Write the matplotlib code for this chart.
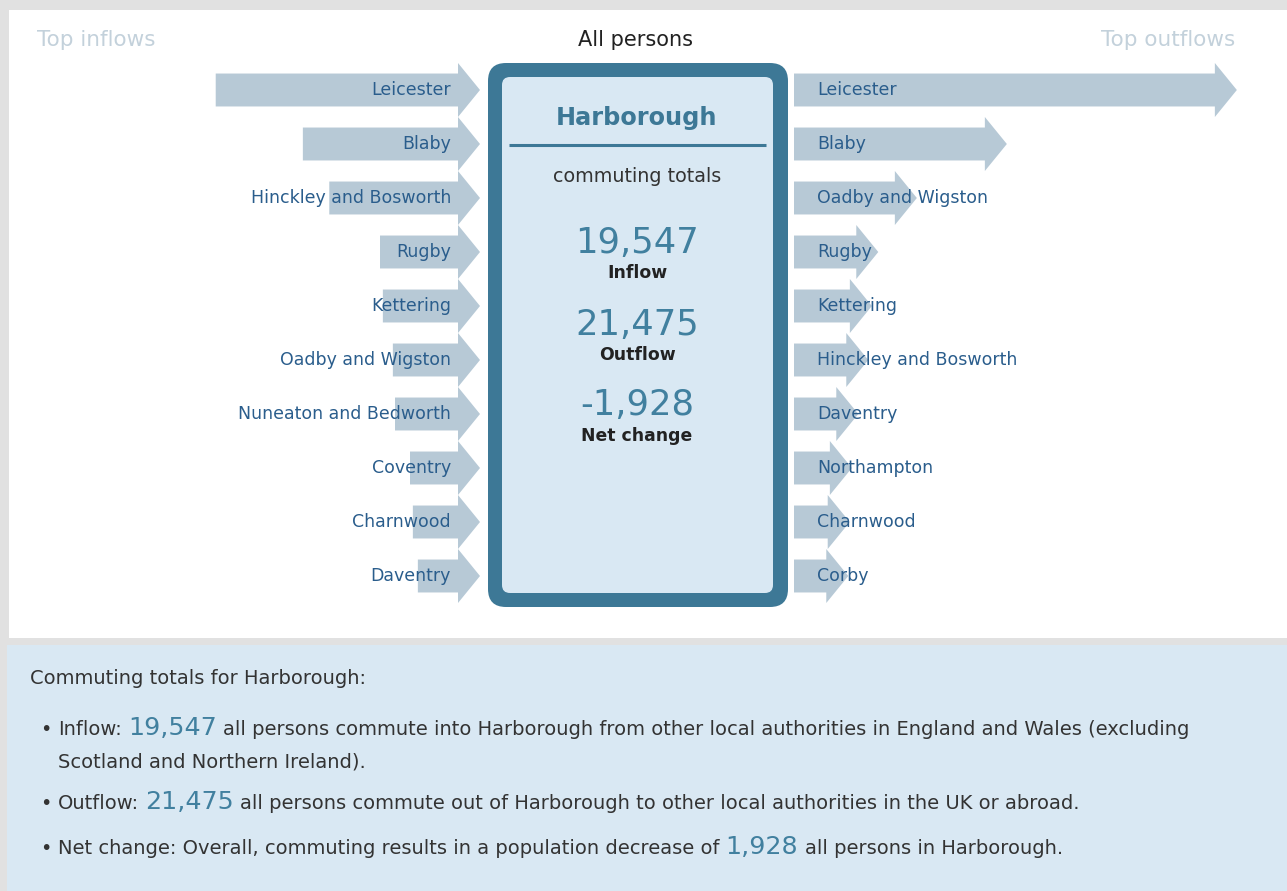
import matplotlib
matplotlib.use("Agg")
import matplotlib.pyplot as plt
from matplotlib.patches import Polygon, Rectangle, FancyBboxPatch

# ---------------- data ----------------
area = "Harborough"
inflow_names = ["Leicester", "Blaby", "Hinckley and Bosworth", "Rugby", "Kettering",
                "Oadby and Wigston", "Nuneaton and Bedworth", "Coventry", "Charnwood", "Daventry"]
inflow_values = [3700, 2480, 2110, 1400, 1360, 1220, 1190, 980, 940, 870]
outflow_names = ["Leicester", "Blaby", "Oadby and Wigston", "Rugby", "Kettering",
                 "Hinckley and Bosworth", "Daventry", "Northampton", "Charnwood", "Corby"]
outflow_values = [6200, 2980, 1720, 1180, 1090, 1040, 900, 810, 780, 760]
total_inflow = 19547
total_outflow = 21475
net_change = total_inflow - total_outflow

# ---------------- style ----------------
W, H = 1287, 891
ARROW = "#b7c9d6"
LABEL = "#2a5d8c"
DARK = "#3d7896"
NUM = "#41809f"
PANEL = "#d9e8f3"
GREY = "#e1e1e1"
TXT = "#333333"
HEAD = "#c3d1db"
FONT = "DejaVu Sans"
BFONT = "DejaVu Sans"

fig = plt.figure(figsize=(W / 100, H / 100), dpi=100)
fig.patch.set_facecolor("white")

# background / overlay axes in pixel coordinates
bg = fig.add_axes([0, 0, 1, 1], zorder=0)
bg.set_xlim(0, W); bg.set_ylim(H, 0); bg.axis("off")
fg = fig.add_axes([0, 0, 1, 1], zorder=3)
fg.set_xlim(0, W); fg.set_ylim(H, 0); fg.axis("off")
fg.patch.set_alpha(0)

bg.add_patch(Rectangle((0, 0), W, H, color=GREY, lw=0))
bg.add_patch(Rectangle((9, 10), W - 9, 628, color="white", lw=0))
bg.add_patch(Rectangle((7, 645), W - 7, H - 645, color=PANEL, lw=0))

# arrow geometry
px_per_person = 1 / 14.0
row0_top, row_h = 63, 54
n = len(inflow_names)
head_px = 22
body_half = 0.305
head_half = 0.5


def arrow_axes(x0, x1, invert):
    ax = fig.add_axes([x0 / W, (H - (row0_top + n * row_h)) / H, (x1 - x0) / W, n * row_h / H], zorder=2)
    span = (x1 - x0) / px_per_person
    ax.set_xlim((span, 0) if invert else (0, span))
    ax.set_ylim(n, 0)
    ax.axis("off")
    ax.patch.set_alpha(0)
    return ax


def draw_arrows(ax, values):
    # tail at 0, tip at the value (x axis runs away from the central box)
    hl = head_px / px_per_person
    for i, v in enumerate(values):
        c = i + 0.5
        pts = [(0, c - body_half), (v - hl, c - body_half), (v - hl, c - head_half), (v, c),
               (v - hl, c + head_half), (v - hl, c + body_half), (0, c + body_half)]
        ax.add_patch(Polygon(pts, closed=True, color=ARROW, lw=0))


def draw_in_arrows(ax, values):
    # tip at 0 (next to the box), tail at the value
    hl = head_px / px_per_person
    for i, v in enumerate(values):
        c = i + 0.5
        pts = [(v, c - body_half), (hl, c - body_half), (hl, c - head_half), (0, c),
               (hl, c + head_half), (hl, c + body_half), (v, c + body_half)]
        ax.add_patch(Polygon(pts, closed=True, color=ARROW, lw=0))


ax_in = arrow_axes(0, 480, invert=True)
draw_in_arrows(ax_in, inflow_values)
ax_out = arrow_axes(794, W, invert=False)
draw_arrows(ax_out, outflow_values)

# labels
LSIZE = 12.5
for i, name in enumerate(inflow_names):
    y = row0_top + (i + 0.5) * row_h
    fg.text(451, y, name, ha="right", va="center", fontsize=LSIZE, color=LABEL, family=FONT)
for i, name in enumerate(outflow_names):
    y = row0_top + (i + 0.5) * row_h
    fg.text(817, y, name, ha="left", va="center", fontsize=LSIZE, color=LABEL, family=FONT)

# headers
fg.text(37, 40, "Top inflows", ha="left", va="center", fontsize=15.5, color=HEAD, family=FONT)
fg.text(1235, 40, "Top outflows", ha="right", va="center", fontsize=15.5, color=HEAD, family=FONT)
fg.text(636, 40, "All persons", ha="center", va="center", fontsize=15, color="#222222", family=FONT)

# central box
bg.add_patch(FancyBboxPatch((488 + 18, 63 + 18), 300 - 36, 544 - 36,
                            boxstyle="round,pad=18", fc=DARK, ec="none"))
bg.add_patch(FancyBboxPatch((502 + 8, 77 + 8), 271 - 16, 516 - 16,
                            boxstyle="round,pad=8", fc=PANEL, ec="none"))
cx = 637
fg.text(cx, 118, area, ha="center", va="center", fontsize=17.3, fontweight="bold", color=DARK, family=BFONT)
fg.plot([509, 766], [145, 145], color=DARK, lw=2.2, solid_capstyle="butt")
fg.text(cx, 176, "commuting totals", ha="center", va="center", fontsize=13.8, color=TXT, family=FONT)
stats = [(f"{total_inflow:,}", "Inflow", 243, 273),
         (f"{total_outflow:,}", "Outflow", 325, 355),
         (f"{net_change:,}", "Net change", 405, 436)]
for num, lab, yn, yl in stats:
    fg.text(cx, yn, num, ha="center", va="center", fontsize=25.5, color=NUM, family=FONT)
    fg.text(cx, yl, lab, ha="center", va="center", fontsize=12.4, fontweight="bold", color="#222222", family=BFONT)

# ---------------- bottom summary text ----------------
renderer = fig.canvas.get_renderer()
SFONT = "DejaVu Sans"
small = 14
big = 18.3


def width_of(s, size):
    t = fg.text(0, 0, s, fontsize=size, family=SFONT)
    w = t.get_window_extent(renderer).width
    t.remove()
    return w


space_w = width_of("x x", small) - width_of("xx", small)


def runs(x, y, parts):
    for k, (s, size, col) in enumerate(parts):
        t = fg.text(x, y, s, ha="left", va="baseline", fontsize=size, color=col, family=SFONT)
        x += t.get_window_extent(renderer).width + space_w


fg.text(30, 684, f"Commuting totals for {area}:", ha="left", va="baseline", fontsize=small, color=TXT, family=SFONT)
fg.text(40, 735, "\u2022", ha="left", va="baseline", fontsize=small, color=TXT, family=SFONT)
runs(58, 735, [("Inflow:", small, TXT), (f"{total_inflow:,}", big, NUM),
               (f"all persons commute into {area} from other local authorities in England and Wales (excluding", small, TXT)])
fg.text(58, 767, "Scotland and Northern Ireland).", ha="left", va="baseline", fontsize=small, color=TXT, family=SFONT)
fg.text(40, 809, "\u2022", ha="left", va="baseline", fontsize=small, color=TXT, family=SFONT)
runs(58, 809, [("Outflow:", small, TXT), (f"{total_outflow:,}", big, NUM),
               (f"all persons commute out of {area} to other local authorities in the UK or abroad.", small, TXT)])
fg.text(40, 854, "\u2022", ha="left", va="baseline", fontsize=small, color=TXT, family=SFONT)
runs(58, 854, [("Net change: Overall, commuting results in a population decrease of", small, TXT),
               (f"{abs(net_change):,}", big, NUM), (f"all persons in {area}.", small, TXT)])

fig.savefig("out.png", dpi=100, facecolor=fig.get_facecolor())
